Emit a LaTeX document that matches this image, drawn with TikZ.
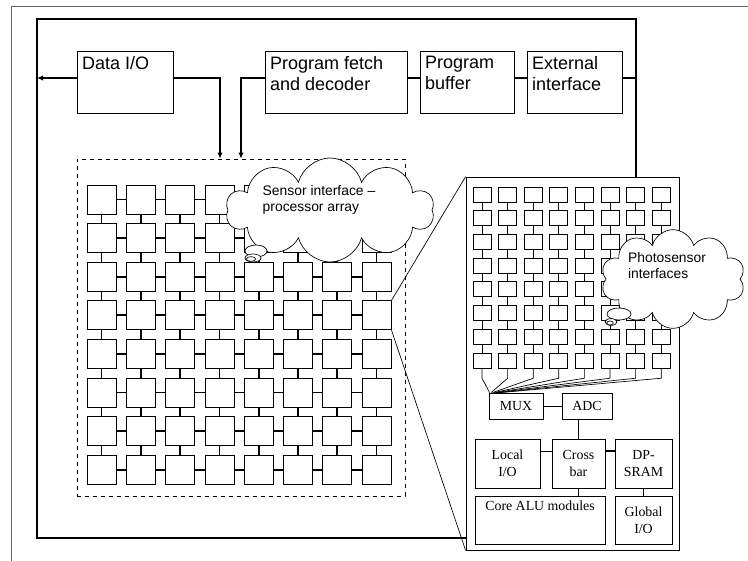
\documentclass[tikz,border=0pt]{standalone}
\usepackage{fontspec}
\setmainfont{Liberation Serif}
\setsansfont{Liberation Sans}
\usetikzlibrary{positioning,arrows.meta,calc,shapes.symbols,shapes.geometric}

\begin{document}
\begin{tikzpicture}[
  >={Latex[length=4.5pt,width=4pt]},
  x=0.75pt,y=-0.75pt,
  frame/.style={line width=1.6pt, black},
  bus/.style={line width=1.6pt, black},
  topbox/.style={draw, line width=0.6pt, minimum height=46.5pt, inner sep=0pt},
  toplbl/.style={font=\sffamily\fontsize{13.5}{16}\selectfont, align=left,
    anchor=north west, inner sep=4pt},
  pe/.style={draw, line width=0.6pt, minimum size=21.75pt, inner sep=0pt},
  pelink/.style={line width=1.3pt},
  ps/.style={draw, line width=0.5pt, minimum width=13.5pt, minimum height=11.25pt, inner sep=0pt},
  thinlink/.style={line width=0.5pt},
  blk/.style={draw, line width=0.6pt, inner sep=0pt, align=center,
    font=\rmfamily\fontsize{10.4}{12.5}\selectfont},
  blklbl/.style={font=\rmfamily\fontsize{10.4}{12.5}\selectfont, anchor=north, inner sep=4pt},
  bubble/.style={draw, cloud, cloud puffs=10, cloud ignores aspect, fill=white,
    line width=0.5pt, inner sep=0pt},
  bubtxt/.style={font=\sffamily\fontsize{10.4}{12}\selectfont, align=left},
  puff/.style={draw, ellipse, fill=white, line width=0.5pt, inner sep=0pt}
]
\useasboundingbox (0,0) rectangle (748,560);

% page border
\draw[black!60, line width=0.5pt] (11,6) rectangle (770,580);

% frame corners
\coordinate (tr) at (636,19);
\coordinate (tl) at (37,19);
\coordinate (bl) at (37,538);

% top row of blocks
\node[topbox, minimum width=72pt, label={[toplbl]north west:Data I/O}] (dataio) at (125,82) {};
\node[topbox, minimum width=106.5pt, label={[toplbl]north west:Program fetch\\and decoder}] (fetch) at (336,82) {};
\node[topbox, minimum width=70.5pt, label={[toplbl]north west:Program\\buffer}] (buffer) at (467,82) {};
\node[topbox, minimum width=71.25pt, label={[toplbl]north west:External\\interface}] (extif) at (574.5,82) {};

% processor array
\node[draw, dashed, line width=0.5pt, minimum width=246pt, minimum height=252.75pt] (array) at (241,327.5) {};
\foreach \i in {0,...,7}
  \foreach \j in {0,...,7}
    \node[pe] (p\i\j) at (101.5+39.3*\i,199.5+38.6*\j) {};
\foreach \i in {0,...,6}
  \foreach \j in {0,...,7} {
    \pgfmathtruncatemacro{\k}{\i+1}
    \draw[pelink] (p\i\j.east) -- (p\k\j.west);
    \draw[pelink] (p\j\i.south) -- (p\j\k.north);
  }

% zoomed cell
\node[draw, line width=0.6pt, minimum width=159.75pt, minimum height=279.75pt] (inset) at (572.5,363.5) {};
\draw[thinlink] (p73.north east) -- (inset.north west);
\draw[thinlink] (p73.south east) -- (inset.south west);

% bus and frame
\draw[frame] (inset.north -| tr) -- (tr) -- (tl) -- (bl) -- (bl -| inset.west);
\draw[bus,->] ([yshift=3pt]dataio.west) -- ([yshift=3pt]dataio.west -| tl);
\draw[bus,->] ([yshift=3pt]dataio.east) -| ([xshift=-15.75pt]array.north);
\draw[bus,->] ([yshift=3pt]fetch.west) -| (array.north);
\draw[bus] ([yshift=3pt]fetch.east) -- ([yshift=3pt]buffer.west);
\draw[bus] ([yshift=3pt]buffer.east) -- ([yshift=3pt]extif.west);
\draw[bus] ([yshift=3pt]extif.east) -- ([yshift=3pt]extif.east -| tr);

% photosensor interfaces
\foreach \i in {0,...,7}
  \foreach \j in {0,...,7}
    \node[ps] (s\i\j) at (482+25.6*\i,194.5+23.7*\j) {};
\foreach \i in {0,...,7}
  \foreach \j in {0,...,6} {
    \pgfmathtruncatemacro{\k}{\j+1}
    \draw[thinlink] (s\i\j.south) -- (s\i\k.north);
  }

% cell blocks
\node[blk, minimum width=40.5pt, minimum height=19.5pt] (mux) at (516,406) {MUX};
\node[blk, minimum width=37.5pt, minimum height=19.5pt] (adc) at (587,406) {ADC};
\node[blk, minimum width=48.75pt, minimum height=36.75pt] (local) at (507.5,463.5) {Local\\I/O};
\node[blk, minimum width=39.75pt, minimum height=36.75pt] (cross) at (578.5,463.5) {Cross\\bar};
\node[blk, minimum width=42.75pt, minimum height=36.75pt] (dpsram) at (643.5,463.5) {DP-\\SRAM};
\node[blk, minimum width=97.5pt, minimum height=36pt, label={[blklbl]north:Core ALU modules}] (core) at (540,520) {};
\node[blk, minimum width=42.75pt, minimum height=36pt] (global) at (643.5,520) {Global\\I/O};

\foreach \i in {0,...,7}
  \draw[thinlink] (s\i7.south) -- ++(0,10) -- ($(mux.north west)+(1+1.5*\i,0)$);
\draw[thinlink] (mux) -- (adc);
\draw[thinlink] (cross.north) -- (cross.north |- adc.south);
\draw[thinlink] ($(local.north east)!0.25!(local.south east)$) -- ($(cross.north west)!0.25!(cross.south west)$);
\draw[pelink] ($(cross.north east)!0.25!(cross.south east)$) -- ($(dpsram.north west)!0.25!(dpsram.south west)$);
\draw[thinlink] (cross.south) -- (cross.south |- core.north);
\draw[thinlink] (dpsram.south) -- (global.north);

% callouts
\node[bubble, minimum width=156pt, minimum height=78pt] (cloudA) at (330,210) {};
\node[puff, minimum width=16.5pt, minimum height=9pt] (puffA1) at (256,251) {};
\node[puff, minimum width=12pt, minimum height=6pt] (puffA2) at (253,258) {};
\node[puff, minimum width=7pt, minimum height=3.5pt] (puffA3) at (251,259) {};
\node[bubtxt] (cloudAtxt) at (319,200) {Sensor interface –\\processor array};

\node[bubble, minimum width=108pt, minimum height=74pt] (cloudB) at (673,279) {};
\node[puff, minimum width=18pt, minimum height=9pt] (puffB1) at (619,314) {};
\node[puff, minimum width=9pt, minimum height=5pt] (puffB2) at (611,322) {};
\node[puff, minimum width=5pt, minimum height=3pt] (puffB3) at (610,323) {};
\node[bubtxt] (cloudBtxt) at (667,266) {Photosensor\\interfaces};

\end{tikzpicture}
\end{document}
